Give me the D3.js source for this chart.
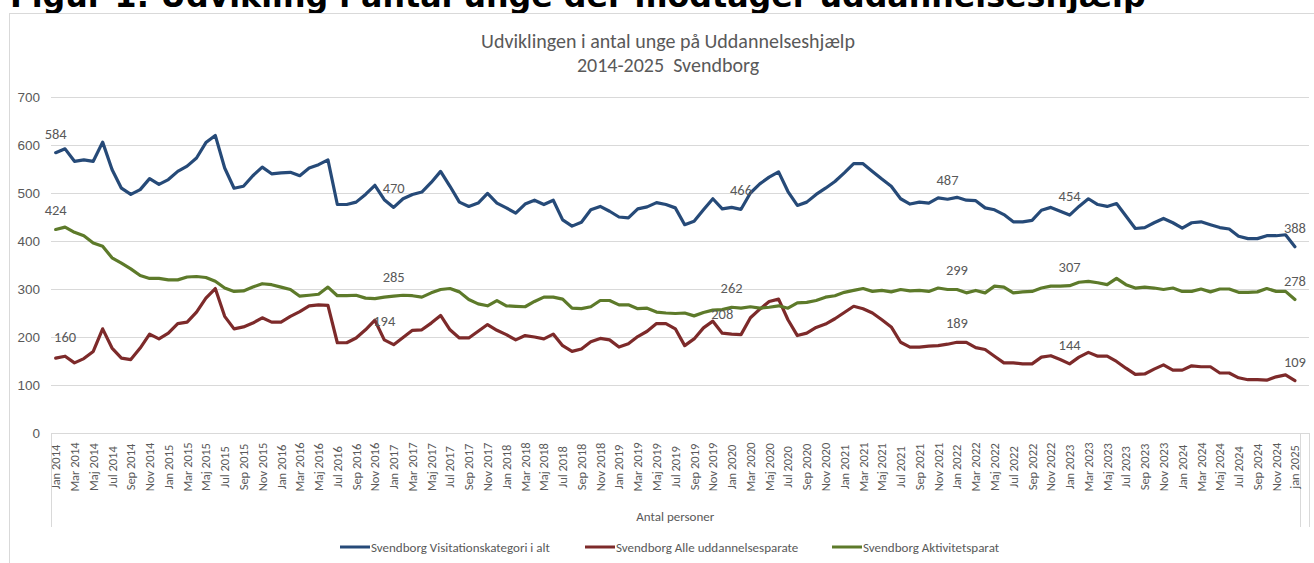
<!DOCTYPE html>
<html>
<head>
<meta charset="utf-8">
<script src="https://cdn.jsdelivr.net/npm/d3@7"></script>
<style>
  body { margin: 0; background: #fff; overflow: hidden; }
  svg { display: block; font-family: Carlito, 'Liberation Sans Narrow', 'Open Sans', sans-serif; }
</style>
</head>
<body>
<div id="chart"></div>
<script>
// --- Data (monthly Jan 2014 - Jan 2025) ---
const monthNames = ['Jan', 'Feb', 'Mar', 'Apr', 'Maj', 'Jun', 'Jul', 'Aug', 'Sep', 'Okt', 'Nov', 'Dec'];
const years = [2014, 2015, 2016, 2017, 2018, 2019, 2020, 2021, 2022, 2023, 2024, 2025];

const visitation = [
  584, 592, 566, 569, 566, 606, 549, 510, 497, 507, 530, 518,
  528, 545, 556, 573, 605, 620, 552, 510, 514, 536, 554, 540,
  542, 543, 536, 552, 559, 569, 476, 476, 481, 497, 516, 486,
  470, 488, 497, 502, 522, 545, 514, 481, 472, 479, 499, 479,
  469, 458, 477, 485, 476, 485, 444, 431, 439, 465, 472, 462,
  450, 448, 467, 471, 480, 476, 469, 434, 441, 465, 488, 467,
  470, 466, 500, 519, 533, 544, 503, 474, 481, 497, 510, 524,
  542, 561, 561, 545, 529, 514, 488, 477, 481, 479, 490, 487,
  491, 485, 484, 469, 465, 455, 440, 440, 443, 464, 470, 462,
  454, 472, 488, 476, 472, 478, 452, 426, 428, 438, 447, 438,
  427, 438, 440, 434, 428, 425, 410, 405, 405, 411, 411, 413,
  388
];

const uddannelsesparate = [
  156, 160, 146, 155, 170, 217, 177, 156, 153, 177, 206, 196,
  208, 228, 231, 252, 281, 301, 243, 217, 221, 229, 240, 231,
  231, 243, 253, 265, 267, 266, 188, 188, 198, 215, 235, 194,
  184, 199, 214, 215, 229, 245, 215, 198, 198, 212, 226, 214,
  205, 194, 203, 200, 196, 206, 182, 170, 175, 190, 197, 194,
  179, 186, 201, 212, 228, 228, 217, 182, 196, 219, 233, 208,
  206, 205, 240, 258, 274, 279, 236, 203, 208, 220, 227, 238,
  251, 264, 259, 250, 236, 221, 189, 179, 179, 181, 182, 185,
  189, 189, 178, 174, 160, 146, 146, 144, 144, 158, 161, 153,
  144, 158, 168, 160, 160, 149, 135, 122, 123, 133, 142, 131,
  131, 140, 138, 138, 125, 125, 115, 111, 111, 110, 117, 121,
  109
];

const aktivitetsparat = [
  424, 429, 418, 411, 396, 389, 365, 354, 342, 328, 322, 322,
  319, 319, 325, 326, 324, 316, 302, 295, 296, 304, 311, 309,
  304, 299, 285, 287, 289, 304, 286, 286, 287, 281, 280, 283,
  285, 287, 286, 283, 292, 299, 301, 294, 278, 269, 265, 276,
  265, 264, 263, 274, 283, 283, 279, 260, 259, 263, 276, 276,
  267, 267, 259, 260, 252, 250, 249, 250, 244, 251, 256, 257,
  262, 260, 263, 260, 262, 265, 260, 271, 272, 276, 283, 286,
  293, 297, 301, 295, 297, 294, 299, 296, 297, 295, 302, 299,
  299, 292, 297, 292, 306, 304, 292, 294, 295, 302, 306, 306,
  307, 314, 316, 313, 309, 322, 309, 302, 304, 302, 299, 302,
  295, 295, 300, 294, 300, 300, 293, 293, 294, 301, 295, 295,
  278
];

// which points carry a data label
const visitationLabels = [0, 36, 73, 95, 108, 132];
const uddannelsesLabels = [1, 35, 71, 96, 108, 132];
const aktivitetLabels = [0, 36, 72, 96, 108, 132];

const yTicks = [0, 100, 200, 300, 400, 500, 600, 700];

// category labels "Jan 2014" ... "jan 2025"
const categories = [];
years.forEach(y => monthNames.forEach(m => categories.push(m + ' ' + y)));
categories.length = visitation.length;
categories[categories.length - 1] = 'jan 2025';

const series = [
  { name: 'Svendborg Visitationskategori i alt', values: visitation, labels: visitationLabels, color: '#264a78' },
  { name: 'Svendborg Alle uddannelsesparate', values: uddannelsesparate, labels: uddannelsesLabels, color: '#7d2a2a' },
  { name: 'Svendborg Aktivitetsparat', values: aktivitetsparat, labels: aktivitetLabels, color: '#5d7a2a' }
];

// --- Layout ---
const W = 1314, H = 563;
const plot = { left: 51, right: 1309, top: 97, bottom: 433 };
const textGray = '#595959';
const lineGray = '#d9d9d9';

const svg = d3.select('#chart').append('svg')
  .attr('width', W)
  .attr('height', H);

// page heading above the chart box (cut off at the top in the source)
const heading = svg.append('text')
  .attr('x', 10)
  .attr('y', 7)
  .attr('font-family', "'DejaVu Sans', Verdana, sans-serif")
  .attr('font-weight', 'bold')
  .attr('font-size', 27)
  .attr('fill', '#000')
  .text('Figur 1: Udvikling i antal unge der modtager uddannelseshjælp');
const hw = heading.node().getComputedTextLength();
heading.attr('font-size', 27 * 1136 / hw);

// chart box
svg.append('rect')
  .attr('x', 9.5).attr('y', 13.5)
  .attr('width', 1320).attr('height', 600)
  .attr('fill', 'none')
  .attr('stroke', lineGray);

// chart title
const title = svg.append('text')
  .attr('x', 668)
  .attr('text-anchor', 'middle')
  .attr('fill', textGray)
  .attr('font-size', 20);
title.append('tspan').attr('x', 668).attr('y', 48).text('Udviklingen i antal unge på Uddannelseshjælp');
title.append('tspan').attr('x', 668).attr('y', 72).text('2014-2025\u00a0 Svendborg');

// --- Scales ---
const x = d3.scaleBand()
  .domain(d3.range(categories.length + 1)) // one empty slot at the end, as in the source
  .range([plot.left, plot.right])
  .padding(0);
const cx = i => x(i) + x.bandwidth() / 2;

const y = d3.scaleLinear()
  .domain([0, 700])
  .range([plot.bottom, plot.top]);

// gridlines
svg.append('g')
  .attr('transform', `translate(${plot.left},0)`)
  .call(d3.axisLeft(y).tickValues(yTicks.slice(1)).tickSize(-(plot.right - plot.left)).tickFormat(''))
  .call(g => g.select('.domain').remove())
  .call(g => g.selectAll('line').attr('stroke', lineGray).attr('stroke-width', 1));

// y labels
svg.append('g')
  .attr('transform', `translate(${plot.left},0)`)
  .call(d3.axisLeft(y).tickValues(yTicks).tickSize(0).tickPadding(11))
  .call(g => g.select('.domain').remove())
  .call(g => g.selectAll('text')
    .attr('fill', textGray)
    .attr('font-size', 13.5)
    .attr('font-family', null));

// x axis line + category boxes
svg.append('line')
  .attr('x1', plot.left).attr('x2', plot.right)
  .attr('y1', plot.bottom + 0.5).attr('y2', plot.bottom + 0.5)
  .attr('stroke', lineGray);

[x(0), x(categories.length), plot.right].forEach(px => {
  svg.append('line')
    .attr('x1', Math.round(px) + 0.5).attr('x2', Math.round(px) + 0.5)
    .attr('y1', plot.bottom).attr('y2', 527)
    .attr('stroke', lineGray);
});

// rotated month labels (every second month)
svg.append('g')
  .selectAll('text')
  .data(categories.map((c, i) => ({ c, i })).filter(d => d.i % 2 === 0))
  .join('text')
  .attr('transform', d => `translate(${cx(d.i) + 4.5},467) rotate(-90)`)
  .attr('text-anchor', 'middle')
  .attr('fill', textGray)
  .attr('font-size', 12.5)
  .text(d => d.c);

// outer category level
svg.append('text')
  .attr('x', (x(0) + x(categories.length)) / 2)
  .attr('y', 521)
  .attr('text-anchor', 'middle')
  .attr('fill', textGray)
  .attr('font-size', 13)
  .text('Antal personer');

// --- Lines ---
const line = d3.line()
  .x((d, i) => cx(i))
  .y(d => y(d));

series.forEach(s => {
  svg.append('path')
    .datum(s.values)
    .attr('fill', 'none')
    .attr('stroke', s.color)
    .attr('stroke-width', 3.2)
    .attr('stroke-linejoin', 'round')
    .attr('stroke-linecap', 'round')
    .attr('d', line);
});

// data labels
series.forEach(s => {
  svg.append('g')
    .selectAll('text')
    .data(s.labels)
    .join('text')
    .attr('x', i => cx(i))
    .attr('y', i => y(s.values[i]) - 14)
    .attr('text-anchor', 'middle')
    .attr('fill', textGray)
    .attr('font-size', 14.5)
    .text(i => s.values[i]);
});

// --- Legend ---
const legendX = [340, 585, 832];
const legend = svg.append('g');
series.forEach((s, k) => {
  legend.append('line')
    .attr('x1', legendX[k]).attr('x2', legendX[k] + 30)
    .attr('y1', 547).attr('y2', 547)
    .attr('stroke', s.color)
    .attr('stroke-width', 3);
  legend.append('text')
    .attr('x', legendX[k] + 31)
    .attr('y', 551.5)
    .attr('fill', textGray)
    .attr('font-size', 13)
    .text(s.name);
});
</script>
</body>
</html>
